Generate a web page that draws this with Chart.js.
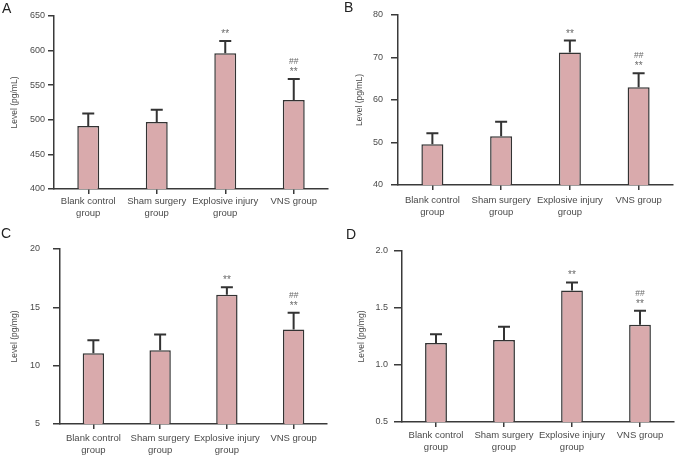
<!DOCTYPE html>
<html>
<head>
<meta charset="utf-8">
<script src="https://cdn.jsdelivr.net/npm/chart.js@4.4.1/dist/chart.umd.min.js"></script>
<style>
  body { margin: 0; width: 675px; height: 457px; position: relative; background: #fff; overflow: hidden; }
  canvas { position: absolute; }
  .tag { position: absolute; font: 14px "Liberation Sans", Arial, sans-serif; line-height: 14px; color: #222; }
</style>
</head>
<body>
<canvas id="chartA" width="337" height="228" style="left:0;top:0"></canvas>
<canvas id="chartB" width="338" height="228" style="left:337px;top:0"></canvas>
<canvas id="chartC" width="337" height="229" style="left:0;top:228px"></canvas>
<canvas id="chartD" width="338" height="229" style="left:337px;top:228px"></canvas>
<div class="tag" style="left:2px;top:1px">A</div>
<div class="tag" style="left:344px;top:0">B</div>
<div class="tag" style="left:1px;top:226px">C</div>
<div class="tag" style="left:346px;top:227px">D</div>
<script>
// groups on the x axis
const categories = [['Blank control', 'group'], ['Sham surgery', 'group'], ['Explosive injury', 'group'], ['VNS group']];

// bar heights and upper error (SD) per panel
const meansA = [491, 497, 596, 528.5];
const sdA = [18, 17.5, 18, 30.5];
const meansB = [49.6, 51.5, 71.2, 63.0];
const sdB = [2.6, 3.4, 2.8, 3.3];
const meansC = [11.07, 11.33, 16.07, 13.1];
const sdC = [1.11, 1.34, 0.66, 1.43];
const meansD = [1.194, 1.22, 1.654, 1.352];
const sdD = [0.076, 0.115, 0.07, 0.123];

// y tick labels
const ticksA = ['400', '450', '500', '550', '600', '650'];
const ticksB = ['40', '50', '60', '70', '80'];
const ticksC = ['5', '10', '15', '20'];
const ticksD = ['0.5', '1.0', '1.5', '2.0'];

// significance marks above the bars
const starMarks = ['', '', '**', '**'];
const hashMarks = ['', '', '', '##'];

const fontFamily = '"Liberation Sans", Arial, sans-serif';
const barFill = '#d9aaac';
const barEdge = '#333333';
const axisColor = '#3a3a3a';
const textColor = '#4a4a4a';
const markColor = '#6a6a6a';

function errorBarPlugin(sds) {
  return {
    id: 'errorBars',
    afterDatasetsDraw(chart) {
      const ctx = chart.ctx;
      const y = chart.scales.y;
      const means = chart.data.datasets[0].data;
      const bars = chart.getDatasetMeta(0).data;
      ctx.save();
      ctx.strokeStyle = barEdge;
      ctx.lineWidth = 2;
      ctx.textAlign = 'center';
      ctx.fillStyle = markColor;
      bars.forEach((bar, i) => {
        const top = y.getPixelForValue(means[i] + sds[i]);
        ctx.beginPath();
        ctx.moveTo(bar.x, bar.y);
        ctx.lineTo(bar.x, top);
        ctx.moveTo(bar.x - 6, top);
        ctx.lineTo(bar.x + 6, top);
        ctx.stroke();
        if (starMarks[i]) {
          ctx.font = '10px ' + fontFamily;
          ctx.fillText(starMarks[i], bar.x, top - 4);
        }
        if (hashMarks[i]) {
          ctx.font = '8.5px ' + fontFamily;
          ctx.fillText(hashMarks[i], bar.x, top - 15);
        }
      });
      ctx.restore();
    }
  };
}

function makePanel(id, means, sds, tickLabels, yTitle, box) {
  const tickValues = tickLabels.map(Number);
  const canvas = document.getElementById(id);
  return new Chart(canvas, {
    type: 'bar',
    data: {
      labels: categories,
      datasets: [{
        data: means,
        backgroundColor: barFill,
        borderColor: barEdge,
        borderWidth: 1.5,
        borderSkipped: false,
        barPercentage: 0.32,
        categoryPercentage: 1
      }]
    },
    options: {
      responsive: false,
      animation: false,
      events: [],
      layout: { padding: { top: box.top, right: canvas.width - box.right, left: 0, bottom: 0 } },
      plugins: { legend: { display: false }, tooltip: { enabled: false } },
      scales: {
        x: {
          grid: { display: true, drawOnChartArea: false, offset: false, tickLength: 5, color: axisColor, lineWidth: 1.5 },
          border: { color: axisColor, width: 1.5 },
          ticks: {
            color: textColor, padding: box.xPad, maxRotation: 0, autoSkip: false,
            font: { family: fontFamily, size: 9.5, lineHeight: 1.2 }
          },
          afterFit: s => { s.height = canvas.height - box.bottom; s.paddingLeft = 0; s.paddingRight = 0; }
        },
        y: {
          min: tickValues[0],
          max: tickValues[tickValues.length - 1],
          grid: { display: true, drawOnChartArea: false, tickLength: box.yTick, color: axisColor, lineWidth: 1.5 },
          border: { color: axisColor, width: 1.5 },
          ticks: {
            color: textColor, padding: box.yPad,
            font: { family: fontFamily, size: 9 },
            callback: (v, i) => tickLabels[i]
          },
          afterBuildTicks: s => { s.ticks = tickValues.map(v => ({ value: v })); },
          title: {
            display: true, text: yTitle, color: textColor,
            font: { family: fontFamily, size: 8.5 },
            padding: { top: box.titleX - 5, bottom: 0 }
          },
          afterFit: s => { s.width = box.left; s.paddingTop = 0; s.paddingBottom = 0; }
        }
      }
    },
    plugins: [errorBarPlugin(sds)]
  });
}

makePanel('chartA', meansA, sdA, ticksA, 'Level (pg/mL)',
  { left: 54, right: 328, top: 16, bottom: 189, yTick: 6, yPad: 3, xPad: 2, titleX: 15 });
makePanel('chartB', meansB, sdB, ticksB, 'Level (pg/mL)',
  { left: 61, right: 336, top: 15, bottom: 185, yTick: 7, yPad: 8, xPad: 5, titleX: 23 });
makePanel('chartC', meansC, sdC, ticksC, 'Level (pg/mg)',
  { left: 60, right: 327, top: 21, bottom: 196, yTick: 7, yPad: 13, xPad: 4, titleX: 15 });
makePanel('chartD', meansD, sdD, ticksD, 'Level (pg/mg)',
  { left: 65, right: 337, top: 23, bottom: 194, yTick: 8, yPad: 6, xPad: 3, titleX: 25 });
</script>
</body>
</html>
